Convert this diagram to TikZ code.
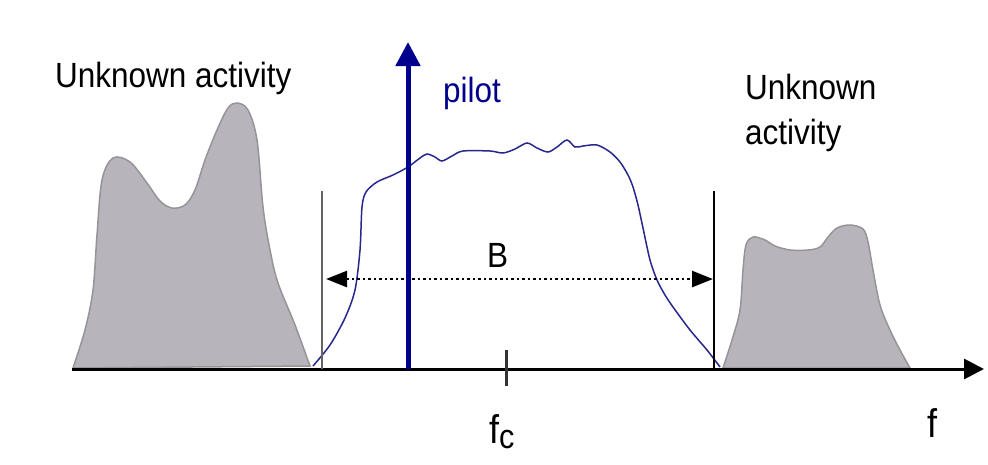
\documentclass[tikz,border=0pt]{standalone}
\usepackage{fontspec}
\usepackage{tikz}
\usetikzlibrary{arrows.meta,positioning}
\newfontfamily\labelfont[FakeStretch=0.9]{Liberation Sans}
\definecolor{pilotNavy}{RGB}{0,0,140}
\definecolor{signalBlue}{RGB}{40,40,140}
\definecolor{activityFill}{RGB}{184,180,188}
\definecolor{activityEdge}{RGB}{150,147,153}
\definecolor{edgeGray}{RGB}{100,100,100}

\begin{document}
\begin{tikzpicture}[
  x=1pt,y=-1pt,
  every node/.style={inner sep=0pt,font=\labelfont\fontsize{35}{45}\selectfont},
  activity/.style={fill=activityFill,draw=activityEdge,line width=1.5pt},
  signal/.style={draw=signalBlue,line width=1.5pt},
  marker/.style={line width=2.5pt},
  bandArrow/.style={{Triangle[length=21pt,width=16pt]}-{Triangle[length=21pt,width=16pt]},line width=2.5pt,dash pattern=on 2.5pt off 3pt},
  freqLabel/.style={font=\labelfont\fontsize{40}{45}\selectfont}
]
  \fill[white] (0,0) rectangle (988,464);
  \useasboundingbox (0,0) rectangle (988,464);

  % Occupied neighbouring bands.
  \draw[activity] plot[smooth,tension=0.55] coordinates {
    (73,368) (85,330) (93,290) (97,235) (102,180) (113,158) (130,162) (147,183)
    (160,201) (172,208) (185,205) (195,190) (205,160) (217,130) (228,108)
    (237,103) (248,110) (257,140) (263,207) (270,250) (278,283) (295,325) (310,366)}
    -- cycle;
  \draw[activity] plot[smooth,tension=0.55] coordinates {
    (723,368) (732,340) (740,310) (743,270) (746,245) (753,237) (765,240)
    (775,246) (790,250) (808,250) (820,247) (828,237) (837,228) (850,225)
    (863,229) (868,242) (873,270) (880,305) (890,330) (900,350) (910,368)}
    -- cycle;

  % Spectrum of the wanted signal.
  \draw[signal] plot[smooth,tension=0.5] coordinates {
    (313,366) (330,345) (345,318) (355,290) (360,250) (362,207) (366,192)
    (377,182) (393,175) (408,167) (420,158) (427,154) (435,157) (442,161)
    (452,156) (463,151) (490,151) (503,153) (515,149) (527,143) (537,148)
    (548,152) (557,147) (567,140) (575,147) (583,146) (597,145) (610,152)
    (620,162) (628,175) (633,187) (638,205) (643,228) (650,260) (657,280)
    (665,295) (673,307) (690,330) (707,350) (720,367)};

  % Frequency axis and centre tick.
  \coordinate (axisStart) at (72,369);
  \coordinate (axisEnd) at (984,369);
  \draw[-{Triangle[length=20pt,width=20pt]},line width=3pt] (axisStart) -- (axisEnd);
  \coordinate (tickTop) at (506,350);
  \coordinate (tickBottom) at (506,386);
  \draw[line width=3pt,black!80] (tickTop) -- (tickBottom);

  % Band edges.
  \coordinate (lowFoot) at (322,369);
  \coordinate (lowTop) at (322,191);
  \coordinate (highFoot) at (714,369);
  \coordinate (highTop) at (714,191);
  \draw[marker,edgeGray] (lowFoot) -- (lowTop);
  \draw[marker,black] (highFoot) -- (highTop);

  % Bandwidth arrow.
  \coordinate (bandLeft) at (326,279);
  \coordinate (bandRight) at (713,279);
  \draw[bandArrow] (bandLeft) -- (bandRight);
  \node[anchor=base west] (bandLabel) at (487,267) {B};

  % Pilot tone.
  \coordinate (pilotFoot) at (408,369);
  \coordinate (pilotTip) at (408,42);
  \draw[-{Triangle[length=24pt,width=24pt]},line width=5pt,pilotNavy] (pilotFoot) -- (pilotTip);
  \node[anchor=base west,text=pilotNavy] (pilotLabel) at (443,102) {pilot};

  % Labels.
  \node[anchor=base west] (leftActivity) at (55,87) {Unknown activity};
  \node[anchor=north west,align=left] (rightActivity) at (745,74) {Unknown\\activity};
  \node[freqLabel,anchor=base west] (centreLabel) at (489,443) {f\raisebox{-5pt}{\fontsize{34}{40}\selectfont c}};
  \node[freqLabel,anchor=base west] (freqLabel) at (927,437) {f};
\end{tikzpicture}
\end{document}
